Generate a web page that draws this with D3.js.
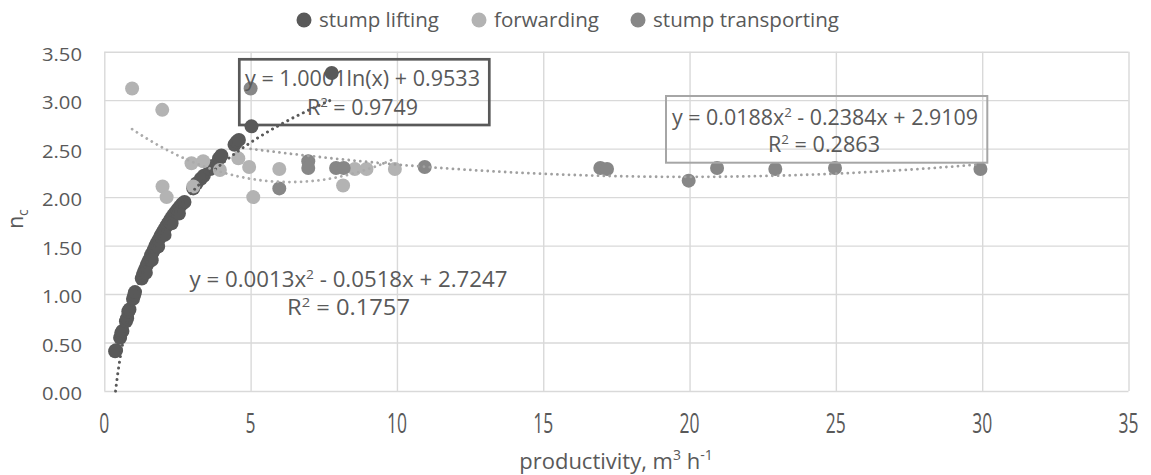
<!DOCTYPE html>
<html>
<head>
<meta charset="utf-8">
<script src="https://cdn.jsdelivr.net/npm/d3@7"></script>
<style>
  html, body { margin: 0; padding: 0; background: #fff; }
  svg { display: block; }
  text { font-family: "Open Sans", "DejaVu Sans", sans-serif; fill: #595959; }
</style>
</head>
<body>
<svg id="chart" width="1151" height="475"></svg>
<script>
// ---- data ----
const seriesNames = ["stump lifting", "forwarding", "stump transporting"];
const seriesColors = ["#595959", "#b3b3b3", "#878787"];

const liftX = [0.37,0.40,0.54,0.58,0.62,0.74,0.78,0.82,0.86,0.98,1.02,1.05,1.28,1.32,1.36,1.40,1.45,1.50,1.55,1.60,1.65,1.70,1.75,1.80,1.86,1.92,1.98,2.04,2.10,2.16,2.22,2.28,2.35,2.42,2.50,2.58,2.66,2.74,1.42,1.62,1.84,2.06,2.30,2.55,3.04,3.15,3.30,3.40,3.62,3.70,3.92,4.00,4.45,4.52,4.60,5.03,7.77];
const liftY = [0.41,0.42,0.55,0.60,0.62,0.72,0.75,0.82,0.84,0.95,0.99,1.02,1.16,1.20,1.23,1.26,1.30,1.33,1.36,1.40,1.43,1.46,1.50,1.53,1.56,1.60,1.63,1.66,1.69,1.72,1.75,1.78,1.81,1.84,1.87,1.90,1.93,1.95,1.22,1.35,1.49,1.61,1.73,1.83,2.09,2.14,2.19,2.22,2.29,2.32,2.40,2.43,2.54,2.57,2.59,2.73,3.28];

const fwdX = [0.95,1.98,1.99,2.13,2.98,3.04,3.38,3.95,4.58,4.95,5.09,5.98,8.16,8.56,8.96,9.93];
const fwdY = [3.12,2.90,2.11,2.00,2.35,2.11,2.37,2.28,2.40,2.31,2.00,2.29,2.12,2.29,2.29,2.29];

const transX = [5.00,5.98,6.97,6.97,7.92,8.18,10.95,16.95,17.18,19.97,20.94,22.93,24.97,29.94];
const transY = [3.12,2.09,2.37,2.30,2.30,2.30,2.31,2.30,2.29,2.17,2.30,2.29,2.30,2.29];

// trendline coefficients (as printed on the chart)
const liftLog = {a: 1.0001, b: 0.9533, x0: 0.385, x1: 7.77};
const fwdPoly = {a: 0.0188, b: -0.2384, c: 2.9109, x0: 0.95, x1: 9.93};
const transPoly = {a: 0.0013, b: -0.0518, c: 2.7247, x0: 5.0, x1: 29.94};

const xTicks = [0,5,10,15,20,25,30,35];
const yTicks = [0,0.5,1,1.5,2,2.5,3,3.5];

(function draw() {
const svg = d3.select("#chart");
const pLeft = 104.3, pRight = 1128.5, pTop = 51.7, pBottom = 391;
const x = d3.scaleLinear().domain([0,35]).range([pLeft,pRight]);
const y = d3.scaleLinear().domain([0,3.5]).range([pBottom,pTop]);

// gridlines
const gx = svg.append("g").attr("transform", `translate(0,${pBottom})`)
  .call(d3.axisBottom(x).tickValues(xTicks).tickSize(-(pBottom-pTop)).tickFormat(""));
const gy = svg.append("g").attr("transform", `translate(${pLeft},0)`)
  .call(d3.axisLeft(y).tickValues(yTicks).tickSize(-(pRight-pLeft)).tickFormat(""));
[gx, gy].forEach(g => {
  g.select(".domain").remove();
  g.selectAll(".tick line").attr("stroke", "#d9d9d9").attr("stroke-width", 1.4);
});

// tick labels
svg.append("g").selectAll("text").data(yTicks).join("text")
  .attr("x", 82).attr("y", d => y(d) + 9)
  .attr("text-anchor", "end").attr("font-size", 18)
  .attr("textLength", 40).attr("lengthAdjust", "spacingAndGlyphs")
  .text(d => d3.format(".2f")(d));
svg.append("g").selectAll("text").data(xTicks).join("text")
  .attr("x", d => x(d)).attr("y", 433)
  .attr("text-anchor", "middle").attr("font-size", 27)
  .attr("textLength", d => String(d).length * 10)
  .attr("lengthAdjust", "spacingAndGlyphs")
  .text(d => d);

// axis titles
const xt = svg.append("text").attr("x", 616).attr("y", 469).attr("text-anchor", "middle")
  .attr("font-size", 22);
xt.append("tspan").text("productivity, m");
xt.append("tspan").attr("dy", -9).attr("font-size", 14).text("3");
xt.append("tspan").attr("dy", 9).text(" h");
xt.append("tspan").attr("dy", -9).attr("font-size", 14).text("-1");

const yt = svg.append("text").attr("transform", "translate(23,219) rotate(-90)")
  .attr("text-anchor", "middle").attr("font-size", 21);
yt.append("tspan").text("n");
yt.append("tspan").attr("dy", 5).attr("font-size", 14).text("c");

// points
const series = [
  {xs: liftX, ys: liftY, color: seriesColors[0]},
  {xs: fwdX, ys: fwdY, color: seriesColors[1]},
  {xs: transX, ys: transY, color: seriesColors[2]}
];
series.forEach(s => {
  svg.append("g").selectAll("circle").data(s.xs.map((v,i)=>[v, s.ys[i]])).join("circle")
    .attr("cx", d => x(d[0])).attr("cy", d => y(d[1])).attr("r", 7)
    .attr("fill", s.color);
});

// trendlines
const line = d3.line().x(d => x(d[0])).y(d => y(d[1]));
function sample(x0, x1, f) {
  const n = 300, pts = [];
  for (let i = 0; i <= n; i++) { const t = x0 + (x1 - x0) * i / n; pts.push([t, f(t)]); }
  return pts;
}
const trends = [
  {pts: sample(liftLog.x0, liftLog.x1, t => liftLog.a * Math.log(t) + liftLog.b), color: seriesColors[0], w: 3},
  {pts: sample(fwdPoly.x0, fwdPoly.x1, t => fwdPoly.a*t*t + fwdPoly.b*t + fwdPoly.c), color: "#ababab", w: 2.8},
  {pts: sample(transPoly.x0, transPoly.x1, t => transPoly.a*t*t + transPoly.b*t + transPoly.c), color: "#a0a0a0", w: 2.8}
];
trends.forEach(tr => {
  svg.append("path").attr("d", line(tr.pts)).attr("fill", "none")
    .attr("stroke", tr.color).attr("stroke-width", tr.w)
    .attr("stroke-linecap", "round").attr("stroke-dasharray", "0.01 5.8");
});

// trendline labels
svg.append("rect").attr("x", 239.3).attr("y", 59.3).attr("width", 250).attr("height", 65.7)
  .attr("fill", "none").attr("stroke", "#595959").attr("stroke-width", 2.7);
svg.append("rect").attr("x", 666).attr("y", 96).attr("width", 321.3).attr("height", 66.7)
  .attr("fill", "none").attr("stroke", "#a6a6a6").attr("stroke-width", 2);

function eqLabel(cx, yb, parts, len) {
  const t = svg.append("text").attr("x", cx).attr("y", yb).attr("text-anchor", "middle")
    .attr("font-size", 21).attr("textLength", len).attr("lengthAdjust", "spacingAndGlyphs");
  parts.forEach(p => {
    if (p.sup) t.append("tspan").attr("dy", -8).attr("font-size", 13).text(p.s);
    else t.append("tspan").attr("dy", p.after ? 8 : 0).text(p.s);
  });
}
eqLabel(362.5, 86, [{s: "y = 1.0001ln(x) + 0.9533"}], 235);
eqLabel(362.5, 115, [{s: "R"}, {s: "2", sup: true}, {s: " = 0.9749", after: true}], 111);
eqLabel(825, 125, [{s: "y = 0.0188x"}, {s: "2", sup: true}, {s: " - 0.2384x + 2.9109", after: true}], 306);
eqLabel(824, 152, [{s: "R"}, {s: "2", sup: true}, {s: " = 0.2863", after: true}], 112);
eqLabel(348.5, 287, [{s: "y = 0.0013x"}, {s: "2", sup: true}, {s: " - 0.0518x + 2.7247", after: true}], 318);
eqLabel(348.5, 315, [{s: "R"}, {s: "2", sup: true}, {s: " = 0.1757", after: true}], 123);

// legend
const legX = [304, 479, 638];
const legLen = [120, 105, 186];
seriesNames.forEach((n, i) => {
  svg.append("circle").attr("cx", legX[i]).attr("cy", 20).attr("r", 7.5).attr("fill", seriesColors[i]);
  svg.append("text").attr("x", legX[i] + 15).attr("y", 27).attr("font-size", 20)
    .attr("textLength", legLen[i]).attr("lengthAdjust", "spacingAndGlyphs").text(n);
});
})();
</script>
</body>
</html>
